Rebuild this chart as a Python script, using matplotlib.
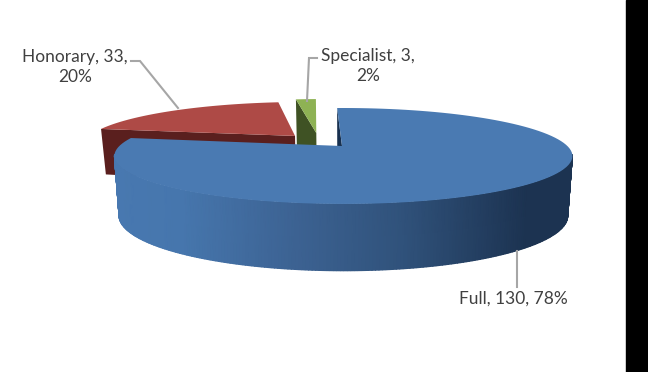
import numpy as np
import matplotlib
matplotlib.use('Agg')
import matplotlib.pyplot as plt
from matplotlib.colors import LinearSegmentedColormap
from matplotlib.patches import Polygon, Rectangle

categories = ['Full', 'Honorary', 'Specialist']
values = [130, 33, 3]

top_colors = ['#4a7ab2', '#ae4a46', '#8eb254']
cut_colors = ['#17304f', '#5a1f1e', '#3f5224']
explode = [(0, 0), (-0.22, 0.23), (-0.122, 0.30)]
radius = [1, 0.97, 1]

# fake 3d projection, tuned against the picture
cx, cy = 342, 146
rx, ry = 224, 45.9
persp = 0.208
skew = -0.006
start = -1.5


def project(u, v):
    p = 1 / (1 + persp * v + skew * u)
    return cx + rx * u * p, cy - ry * v * p


def lower(x, y):
    # same point on the underside of the disc
    depth = np.interp(y - cy, [-18, 12, 59], [45, 60, 67])
    return cx + (x - cx) * 0.98, y + depth


def rim(t0, t1, off, r=1, n=120):
    t = np.radians(np.linspace(t0, t1, n))
    return project(r * np.sin(t) + off[0], r * np.cos(t) + off[1])


fig = plt.figure(figsize=(6.48, 3.72), dpi=100)
ax = fig.add_axes([0, 0, 1, 1])

spans = np.array(values) / sum(values) * 360
starts = start + np.concatenate(([0], np.cumsum(spans)[:-1]))
wall_cmap = LinearSegmentedColormap.from_list(
    'wall', [(0, '#4878b0'), (0.15, '#4676ad'), (0.4, '#3c6292'), (0.63, '#30527b'),
             (0.9, '#1c3351'), (1, '#1c3351')])

# back slices first, full slice goes on top of them
for i in [1, 2, 0]:
    t0, t1 = starts[i], starts[i] + spans[i]
    ax0, ay0 = project(*explode[i])
    xs, ys = rim(t0, t1, explode[i], radius[i])

    # cut face
    lx, ly = lower(xs[0], ys[0])
    bx, by = lower(ax0, ay0)
    ax.add_patch(Polygon([(xs[0], ys[0]), (ax0, ay0), (bx, by), (lx, ly)],
                         color=cut_colors[i], lw=0))

    if i == 0:
        # outer wall, shaded left to right, only the part facing the viewer
        wx, wy = rim(100, 260, explode[i], n=220)
        lx, ly = lower(wx, wy)
        X = np.vstack([wx, lx])
        Y = np.vstack([wy, ly])
        ax.pcolormesh(X, Y, (X - 113) / 460, shading='gouraud', cmap=wall_cmap,
                      vmin=0, vmax=1, zorder=1)

    ax.add_patch(Polygon(np.vstack([np.column_stack([xs, ys]), [(ax0, ay0)]]),
                         color=top_colors[i], lw=0))

ax.set_xlim(0, 648)
ax.set_ylim(372, 0)
ax.axis('off')
ax.add_patch(Rectangle((626, 0), 22, 372, color='black', zorder=10))

# leader lines
leader = dict(color='#a6a6a6', lw=1.5, solid_joinstyle='miter')
ax.plot([131, 140, 178], [61, 61, 108], **leader)
ax.plot([317, 309, 307], [58, 58, 101], **leader)
ax.plot([517, 517], [251, 287], **leader)

pct = [round(v / sum(values) * 100) for v in values]
font = dict(family='Lato', fontsize=12.5, color='#404040', ha='center', va='center', linespacing=1.3)
ax.text(513, 299, f'{categories[0]}, {values[0]}, {pct[0]}%', **font)
ax.text(75, 67, f'{categories[1]}, {values[1]},\n{pct[1]}%', **font)
ax.text(368, 66, f'{categories[2]}, {values[2]},\n{pct[2]}%', **font)

plt.savefig('out.png', dpi=100)
plt.close()
